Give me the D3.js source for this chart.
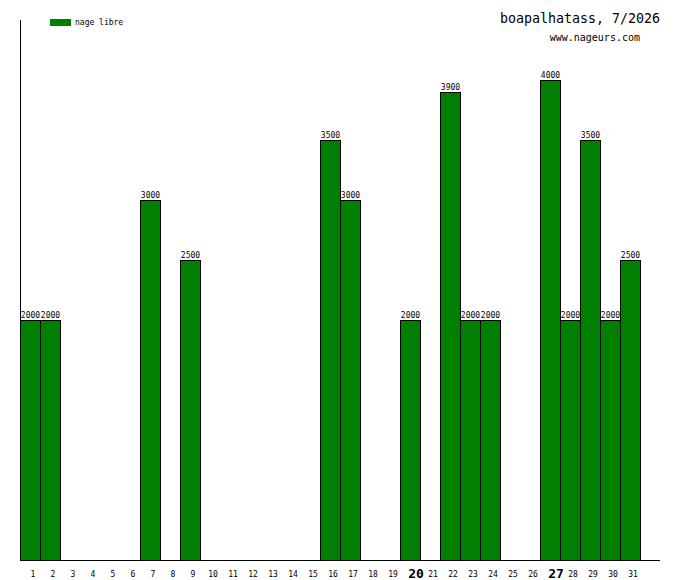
<!DOCTYPE html>
<html>
<head>
<meta charset="utf-8">
<script src="https://cdn.jsdelivr.net/npm/d3@7"></script>
<style>
  body { margin: 0; background: #fff; }
  text { font-family: "DejaVu Sans Mono", monospace; }
</style>
</head>
<body>
<script>
const days = d3.range(1, 32);
const values = [2000, 2000, 0, 0, 0, 0, 3000, 0, 2500, 0, 0, 0, 0, 0, 0, 3500, 3000, 0, 0, 2000,
  0, 3900, 2000, 2000, 0, 0, 4000, 2000, 3500, 2000, 2500];
const boldDays = [20, 27];
const seriesName = "nage libre";
const title = "boapalhatass, 7/2026";
const subtitle = "www.nageurs.com";

const W = 680, H = 580;
const svg = d3.select("body").append("svg").attr("width", W).attr("height", H);

const x = d3.scaleBand().domain(days).range([20, 640]).padding(0);
const y = d3.scaleLinear().domain([0, 4500]).range([560, 20]);

const shown = days.filter((d, i) => values[i] > 0);

// bars
svg.append("g")
  .selectAll("rect")
  .data(shown)
  .join("rect")
  .attr("x", (d) => x(d) + 0.5)
  .attr("y", (d) => y(values[d - 1]) + 0.5)
  .attr("width", x.bandwidth())
  .attr("height", (d) => y(0) - y(values[d - 1]))
  .attr("fill", "#008000")
  .attr("stroke", "#000")
  .attr("stroke-width", 1);

// value labels
svg.append("g")
  .selectAll("text")
  .data(shown)
  .join("text")
  .attr("x", (d) => x(d) + x.bandwidth() / 2 + 0.5)
  .attr("y", (d) => y(values[d - 1]) - 2)
  .attr("text-anchor", "middle")
  .attr("font-size", 8)
  .text((d) => values[d - 1]);

// axes
svg.append("line").attr("x1", 20.5).attr("x2", 20.5).attr("y1", 20).attr("y2", 560.5)
  .attr("stroke", "#000");
svg.append("line").attr("x1", 20).attr("x2", 660).attr("y1", 560.5).attr("y2", 560.5)
  .attr("stroke", "#000");

svg.append("g")
  .selectAll("text")
  .data(days)
  .join("text")
  .attr("x", (d) => x(d) + x.bandwidth() / 2 + (boldDays.includes(d) ? 6 : 3))
  .attr("y", (d) => (boldDays.includes(d) ? 578 : 577))
  .attr("text-anchor", "middle")
  .attr("font-size", (d) => (boldDays.includes(d) ? 13 : 8))
  .attr("font-weight", (d) => (boldDays.includes(d) ? "bold" : "normal"))
  .text((d) => d);

// legend
svg.append("rect").attr("x", 50).attr("y", 19).attr("width", 21).attr("height", 7)
  .attr("fill", "#008000");
svg.append("text").attr("x", 75).attr("y", 25).attr("font-size", 8)
  .text(seriesName);

// title
svg.append("text").attr("x", 660).attr("y", 23).attr("text-anchor", "end")
  .attr("font-size", 13.3).text(title);
svg.append("text").attr("x", 640).attr("y", 41).attr("text-anchor", "end")
  .attr("font-size", 10).text(subtitle);
</script>
</body>
</html>
